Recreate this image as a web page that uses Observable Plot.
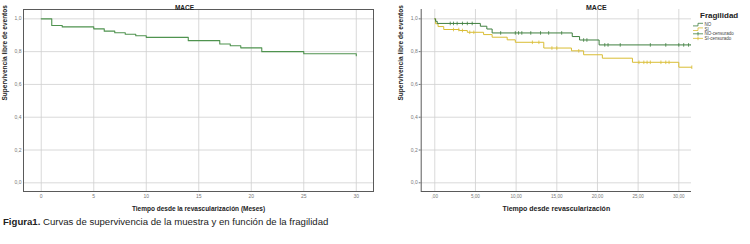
<!DOCTYPE html>
<html><head><meta charset="utf-8">
<script src="https://cdn.jsdelivr.net/npm/d3@7"></script>
<script src="https://cdn.jsdelivr.net/npm/@observablehq/plot@0.6"></script>
<style>
html,body{margin:0;padding:0;background:#fff}
body{width:750px;height:244px;overflow:hidden;position:relative;font-family:"Liberation Sans",Arial,sans-serif}
#left{position:absolute;left:0;top:0}
#right{position:absolute;left:375px;top:0}
#cap{position:absolute;left:3px;top:216px;font-size:9.6px;color:#222;white-space:nowrap}
</style></head><body>
<div id="left"></div><div id="right"></div>
<div id="cap"><b>Figura1.</b> Curvas de supervivencia de la muestra y en función de la fragilidad</div>
<script>
// ---- data ----
const xTicks = [0, 5, 10, 15, 20, 25, 30];
const yTicks = [0, 0.2, 0.4, 0.6, 0.8, 1.0];
const titleText = "MACE";
const yLabel = "Supervivencia libre de eventos";
const xLabelLeft = "Tiempo desde la revascularización (Meses)";
const xLabelRight = "Tiempo desde revascularización";
const legendTitle = "Fragilidad";
const legendItems = ["NO", "SI", "NO-censurado", "SI-censurado"];

// overall sample
const maceT = [0, 1, 2, 5, 6, 7, 8, 9, 10, 14, 17, 18, 19, 21, 25, 30];
const maceS = [1.0, 0.959, 0.951, 0.939, 0.925, 0.915, 0.906, 0.897, 0.887, 0.867, 0.847, 0.836, 0.823, 0.800, 0.787, 0.775];

// Fragilidad = NO
const noT = [0, 0.1, 0.3, 5.6, 6.4, 7.05, 16.9, 17.8, 20.2, 31.5];
const noS = [1.0, 0.985, 0.972, 0.955, 0.938, 0.914, 0.892, 0.871, 0.841, 0.841];
const noCensT = [1.9, 2.3, 2.75, 3.4, 4.0, 4.6, 8.1, 9.9, 10.3, 10.7, 11.8, 13.0, 14.0, 15.6, 18.3, 18.7, 20.9, 21.3, 22.8, 26.5, 28.4, 30.0, 30.6, 31.2];

// Fragilidad = SI
const siT = [0, 0.1, 0.4, 1.1, 3.0, 4.0, 6.0, 7.05, 8.9, 9.9, 13.4, 16.8, 18.3, 20.6, 24.3, 30.0, 31.6];
const siS = [1.0, 0.97, 0.953, 0.935, 0.929, 0.918, 0.904, 0.888, 0.872, 0.857, 0.822, 0.805, 0.781, 0.760, 0.735, 0.705, 0.705];
const siCensT = [2.3, 2.95, 3.4, 4.3, 4.8, 12.0, 12.8, 14.4, 15.0, 17.7, 25.1, 25.7, 26.1, 26.5, 27.8, 28.4, 28.8, 31.6];

// ---- helpers ----
const green = "#3f7f3f", greenL = "#4f934f", yellow = "#d9bd34";
const pts = (ts, ss) => ts.map((t, i) => ({t, s: ss[i]}));
const stepAt = (ts, ss, t) => { let v = ss[0]; for (let i = 0; i < ts.length; i++) if (ts[i] <= t) v = ss[i]; return v; };
const cens = (cts, ts, ss) => cts.map(t => ({t, s: stepAt(ts, ss, t)}));
const vbar = {draw(ctx, size) { const r = Math.sqrt(size / Math.PI); ctx.moveTo(0, -r); ctx.lineTo(0, r); }};
const fmtY = d => d.toFixed(1).replace(".", ",");
const fmtXR = d => d === 0 ? ",00" : d.toFixed(2).replace(".", ",");
const gridStyle = {stroke: "#cfcfcf", strokeOpacity: 1, strokeWidth: 0.8};

// ---- left chart ----
const xL = [-1.69, 31.64], yD = [-0.053, 1.057];
const left = Plot.plot({
  width: 375, height: 216, marginLeft: 23, marginRight: 2, marginTop: 9, marginBottom: 25,
  x: {domain: xL}, y: {domain: yD},
  style: {fontFamily: "Liberation Sans, Arial, sans-serif", background: "white", overflow: "visible"},
  marks: [
    Plot.gridX(xTicks, gridStyle),
    Plot.gridY(yTicks, gridStyle),
    Plot.frame({stroke: "#5a5a5a", strokeWidth: 1}),
    Plot.axisX(xTicks, {tickSize: 0, tickPadding: 3, fontSize: 5, color: "#777", tickFormat: d => String(d), label: null}),
    Plot.axisY(yTicks, {tickSize: 0, tickPadding: 2, fontSize: 5, color: "#777", tickFormat: fmtY, label: null}),
    Plot.line(pts(maceT, maceS), {x: "t", y: "s", curve: "step-after", stroke: greenL, strokeWidth: 1.1}),
    Plot.text([titleText], {frameAnchor: "top", dy: -4, dx: -14, fontWeight: "bold", fontSize: 6.5, fill: "#222"}),
    Plot.text([xLabelLeft], {frameAnchor: "bottom", dy: 19, fontWeight: "bold", fontSize: 6.5, fill: "#222"}),
    Plot.text([yLabel], {frameAnchor: "left", dx: -18.5, rotate: -90, fontWeight: "bold", fontSize: 6.5, fill: "#222"})
  ]
});
document.getElementById("left").append(left);

// ---- right chart ----
const xR = [-1.67, 31.56];
const right = Plot.plot({
  width: 375, height: 216, marginLeft: 45.7, marginRight: 59, marginTop: 9, marginBottom: 25,
  x: {domain: xR}, y: {domain: yD},
  style: {fontFamily: "Liberation Sans, Arial, sans-serif", background: "white", overflow: "visible"},
  marks: [
    Plot.gridX(xTicks, gridStyle),
    Plot.gridY(yTicks, gridStyle),
    Plot.ruleX([xR[0]], {stroke: "#5a5a5a", strokeWidth: 1}),
    Plot.ruleY([yD[0]], {stroke: "#5a5a5a", strokeWidth: 1}),
    Plot.axisX(xTicks, {tickSize: 0, tickPadding: 3, fontSize: 4.6, color: "#777", tickFormat: fmtXR, label: null}),
    Plot.axisY(yTicks, {tickSize: 2, tickPadding: 1.5, fontSize: 5, color: "#777", tickFormat: fmtY, label: null}),
    Plot.line(pts(siT, siS), {x: "t", y: "s", curve: "step-after", stroke: yellow, strokeWidth: 1}),
    Plot.line(pts(noT, noS), {x: "t", y: "s", curve: "step-after", stroke: green, strokeWidth: 1}),
    Plot.dot(cens(siCensT, siT, siS), {x: "t", y: "s", symbol: vbar, r: 1.8, stroke: yellow, strokeWidth: 0.8}),
    Plot.dot(cens(noCensT, noT, noS), {x: "t", y: "s", symbol: vbar, r: 1.8, stroke: green, strokeWidth: 0.8}),
    Plot.text([titleText], {frameAnchor: "top", dy: -4, dx: 40, fontWeight: "bold", fontSize: 7, fill: "#222"}),
    Plot.text([xLabelRight], {frameAnchor: "bottom", dy: 19, fontWeight: "bold", fontSize: 7, fill: "#222"}),
    Plot.text([yLabel], {frameAnchor: "left", dx: -20.7, rotate: -90, fontWeight: "bold", fontSize: 6.5, fill: "#222"})
  ]
});
document.getElementById("right").append(right);

// ---- legend (drawn into the right svg) ----
const svg = d3.select(right);
const lg = svg.append("g").attr("font-family", "Liberation Sans, Arial, sans-serif").attr("text-anchor", "start");
lg.append("text").attr("x", 325).attr("y", 17.5).attr("font-size", 8).attr("font-weight", "bold").attr("fill", "#222").text(legendTitle);
const cols = [green, yellow, green, yellow];
const ys = [24.6, 29.2, 33.8, 38.4];
legendItems.forEach((name, i) => {
  const y = ys[i];
  if (i < 2) {
    lg.append("path").attr("d", `M318,${y + 1.3}H323V${y - 1.3}H328`).attr("fill", "none").attr("stroke", cols[i]).attr("stroke-width", 0.8);
  } else {
    lg.append("path").attr("d", `M318,${y}H328M323,${y - 1.8}V${y + 1.8}`).attr("fill", "none").attr("stroke", cols[i]).attr("stroke-width", 0.8);
  }
  lg.append("text").attr("x", 329.5).attr("y", y).attr("dy", "0.35em").attr("font-size", 4.5).attr("fill", "#444").text(name);
});
</script></body></html>
